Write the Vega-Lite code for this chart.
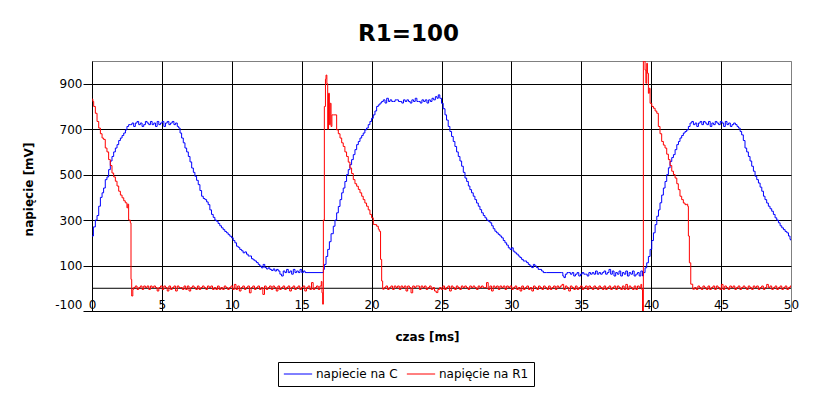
{
  "$schema": "https://vega.github.io/schema/vega-lite/v6.json",
  "width": 699,
  "height": 250,
  "autosize": {"type": "none"},
  "padding": {"left": 92, "top": 61, "right": 25, "bottom": 82},
  "background": "white",
  "config": {
    "font": "DejaVu Sans",
    "view": {"stroke": "#808080", "strokeWidth": 1}
  },
  "title": {"text": "R1=100", "font": "DejaVu Sans", "fontSize": 23, "fontWeight": "bold", "color": "black", "frame": "group", "anchor": "middle", "dx": -33, "offset": 15},
  "datasets": {
    "C": [
      {"t":0,"v":230},{"t":0.1,"v":270},{"t":0.24,"v":300},{"t":0.36,"v":320},{"t":0.48,"v":361},{"t":0.6,"v":400},{"t":0.72,"v":420},{"t":0.83,"v":441},{"t":0.95,"v":478},{"t":1.07,"v":490},{"t":1.19,"v":522},{"t":1.31,"v":560},{"t":1.43,"v":580},{"t":1.55,"v":600},{"t":1.67,"v":617},{"t":1.79,"v":632},{"t":1.91,"v":650},{"t":2.03,"v":661},{"t":2.15,"v":672},{"t":2.27,"v":683},{"t":2.39,"v":697},{"t":2.5,"v":712},{"t":2.62,"v":720},
      {"t":2.74,"v":720},{"t":2.86,"v":727},{"t":2.98,"v":712},{"t":3.1,"v":727},{"t":3.22,"v":734},{"t":3.34,"v":720},{"t":3.46,"v":727},{"t":3.58,"v":712},{"t":3.7,"v":720},{"t":3.82,"v":734},{"t":3.94,"v":727},{"t":4.06,"v":720},{"t":4.18,"v":734},{"t":4.3,"v":720},{"t":4.42,"v":727},{"t":4.54,"v":712},{"t":4.66,"v":734},{"t":4.78,"v":720},{"t":4.9,"v":727},{"t":5.02,"v":734},{"t":5.14,"v":712},{"t":5.26,"v":727},{"t":5.38,"v":734},{"t":5.5,"v":720},{"t":5.62,"v":727},{"t":5.74,"v":734},{"t":5.86,"v":720},{"t":5.98,"v":727},{"t":6.1,"v":712},
      {"t":6.2,"v":705},{"t":6.3,"v":683},{"t":6.41,"v":661},{"t":6.53,"v":640},{"t":6.65,"v":617},{"t":6.77,"v":600},{"t":6.89,"v":580},{"t":7.01,"v":556},{"t":7.13,"v":529},{"t":7.25,"v":510},{"t":7.36,"v":493},{"t":7.48,"v":475},{"t":7.6,"v":456},{"t":7.72,"v":430},{"t":7.84,"v":405},{"t":7.96,"v":395},{"t":8.08,"v":390},{"t":8.2,"v":380},{"t":8.31,"v":368},{"t":8.43,"v":345},{"t":8.55,"v":325},{"t":8.67,"v":312},{"t":8.79,"v":300},{"t":8.9,"v":295},{"t":9.02,"v":285},{"t":9.14,"v":275},{"t":9.26,"v":266},{"t":9.38,"v":258},{"t":9.5,"v":250},{"t":9.62,"v":244},{"t":9.74,"v":236},{"t":9.86,"v":229},{"t":9.98,"v":222},{"t":10.1,"v":210},{"t":10.22,"v":200},{"t":10.34,"v":185},{"t":10.46,"v":180},{"t":10.57,"v":171},{"t":10.7,"v":165},{"t":10.81,"v":156},{"t":10.93,"v":160},{"t":11.05,"v":150},{"t":11.17,"v":142},{"t":11.29,"v":142},{"t":11.41,"v":130},{"t":11.53,"v":125},{"t":11.65,"v":120},{"t":11.77,"v":113},{"t":11.89,"v":105},{"t":12.0,"v":98},{"t":12.12,"v":90},{"t":12.24,"v":105},{"t":12.36,"v":91},{"t":12.48,"v":85},{"t":12.6,"v":90},{"t":12.72,"v":83},{"t":12.84,"v":78},{"t":12.96,"v":85},{"t":13.08,"v":76},{"t":13.2,"v":83},{"t":13.32,"v":76},{"t":13.44,"v":62},{"t":13.56,"v":54},{"t":13.68,"v":76},{"t":13.8,"v":69},{"t":13.92,"v":83},{"t":14.04,"v":69},{"t":14.16,"v":76},{"t":14.28,"v":62},{"t":14.4,"v":83},{"t":14.52,"v":69},{"t":14.64,"v":76},{"t":14.76,"v":69},{"t":14.88,"v":83},{"t":15.0,"v":69},{"t":15.12,"v":76},{"t":15.24,"v":69},{"t":16.45,"v":69},
      {"t":16.55,"v":83},{"t":16.62,"v":105},{"t":16.74,"v":140},{"t":16.86,"v":171},{"t":16.98,"v":205},{"t":17.1,"v":240},{"t":17.26,"v":273},{"t":17.38,"v":300},{"t":17.5,"v":332},{"t":17.62,"v":360},{"t":17.74,"v":390},{"t":17.86,"v":420},{"t":17.97,"v":441},{"t":18.09,"v":470},{"t":18.21,"v":500},{"t":18.33,"v":522},{"t":18.45,"v":544},{"t":18.57,"v":566},{"t":18.69,"v":588},{"t":18.81,"v":610},{"t":18.93,"v":632},{"t":19.05,"v":646},{"t":19.17,"v":661},{"t":19.29,"v":672},{"t":19.4,"v":683},{"t":19.52,"v":697},{"t":19.64,"v":705},{"t":19.76,"v":720},{"t":19.88,"v":734},{"t":20.0,"v":748},{"t":20.12,"v":763},{"t":20.24,"v":780},{"t":20.36,"v":800},{"t":20.48,"v":807},{"t":20.6,"v":815},{"t":20.72,"v":822},
      {"t":20.84,"v":829},{"t":20.96,"v":815},{"t":21.08,"v":836},{"t":21.2,"v":822},{"t":21.32,"v":829},{"t":21.44,"v":822},{"t":21.56,"v":822},{"t":21.68,"v":829},{"t":21.8,"v":829},{"t":21.92,"v":822},{"t":22.04,"v":822},{"t":22.16,"v":815},{"t":22.28,"v":829},{"t":22.4,"v":822},{"t":22.52,"v":829},{"t":22.64,"v":822},{"t":22.76,"v":815},{"t":22.88,"v":829},{"t":23.0,"v":822},{"t":23.12,"v":836},{"t":23.24,"v":822},{"t":23.36,"v":822},{"t":23.48,"v":815},{"t":23.6,"v":829},{"t":23.72,"v":822},{"t":23.84,"v":829},{"t":23.96,"v":815},{"t":24.08,"v":829},{"t":24.2,"v":822},{"t":24.32,"v":836},{"t":24.44,"v":829},{"t":24.56,"v":843},{"t":24.68,"v":836},{"t":24.77,"v":851},{"t":24.88,"v":836},
      {"t":25.0,"v":814},{"t":25.12,"v":790},{"t":25.25,"v":763},{"t":25.36,"v":740},{"t":25.48,"v":712},{"t":25.6,"v":690},{"t":25.72,"v":668},{"t":25.84,"v":646},{"t":25.96,"v":624},{"t":26.08,"v":600},{"t":26.2,"v":580},{"t":26.32,"v":560},{"t":26.44,"v":537},{"t":26.56,"v":510},{"t":26.68,"v":485},{"t":26.8,"v":470},{"t":26.92,"v":450},{"t":27.03,"v":434},{"t":27.15,"v":420},{"t":27.27,"v":405},{"t":27.39,"v":390},{"t":27.51,"v":375},{"t":27.63,"v":361},{"t":27.75,"v":346},{"t":27.87,"v":332},{"t":27.99,"v":320},{"t":28.11,"v":310},{"t":28.23,"v":300},{"t":28.35,"v":295},{"t":28.47,"v":288},{"t":28.59,"v":275},{"t":28.7,"v":262},{"t":28.82,"v":251},{"t":28.94,"v":244},{"t":29.06,"v":237},{"t":29.18,"v":230},{"t":29.3,"v":222},{"t":29.42,"v":210},{"t":29.54,"v":200},{"t":29.66,"v":190},{"t":29.78,"v":178},{"t":29.9,"v":171},{"t":30.02,"v":178},{"t":30.13,"v":163},{"t":30.25,"v":156},{"t":30.37,"v":150},{"t":30.49,"v":142},{"t":30.61,"v":135},{"t":30.73,"v":127},{"t":30.85,"v":120},{"t":30.97,"v":120},{"t":31.09,"v":113},{"t":31.21,"v":105},{"t":31.33,"v":98},{"t":31.45,"v":91},{"t":31.57,"v":105},{"t":31.68,"v":98},{"t":31.8,"v":91},{"t":31.92,"v":83},{"t":32.04,"v":83},{"t":32.16,"v":76},{"t":32.28,"v":69},{"t":32.52,"v":69},{"t":33.6,"v":69},{"t":33.68,"v":54},{"t":33.76,"v":47},{"t":33.86,"v":62},{"t":33.98,"v":69},
      {"t":34.1,"v":69},{"t":34.22,"v":62},{"t":34.34,"v":69},{"t":34.46,"v":54},{"t":34.58,"v":62},{"t":34.7,"v":69},{"t":34.82,"v":54},{"t":34.94,"v":62},{"t":35.06,"v":69},{"t":35.18,"v":62},{"t":35.3,"v":62},{"t":35.42,"v":54},{"t":35.54,"v":69},{"t":35.66,"v":62},{"t":35.78,"v":69},{"t":35.9,"v":62},{"t":36.02,"v":76},{"t":36.14,"v":62},{"t":36.26,"v":69},{"t":36.38,"v":62},{"t":36.5,"v":69},{"t":36.62,"v":76},{"t":36.74,"v":62},{"t":36.86,"v":69},{"t":36.98,"v":83},{"t":37.1,"v":62},{"t":37.22,"v":76},{"t":37.34,"v":54},{"t":37.46,"v":69},{"t":37.58,"v":62},{"t":37.7,"v":76},{"t":37.82,"v":54},{"t":37.94,"v":69},{"t":38.06,"v":62},{"t":38.18,"v":76},{"t":38.3,"v":54},{"t":38.42,"v":69},{"t":38.54,"v":62},{"t":38.66,"v":76},{"t":38.78,"v":54},{"t":38.9,"v":62},{"t":39.02,"v":69},{"t":39.14,"v":54},{"t":39.26,"v":76},{"t":39.38,"v":54},
      {"t":39.44,"v":69},{"t":39.56,"v":90},{"t":39.68,"v":112},{"t":39.8,"v":140},{"t":39.92,"v":171},{"t":40.04,"v":210},{"t":40.16,"v":244},{"t":40.28,"v":280},{"t":40.4,"v":317},{"t":40.52,"v":345},{"t":40.63,"v":376},{"t":40.75,"v":410},{"t":40.87,"v":441},{"t":40.99,"v":470},{"t":41.11,"v":500},{"t":41.23,"v":530},{"t":41.35,"v":558},{"t":41.47,"v":575},{"t":41.59,"v":588},{"t":41.71,"v":610},{"t":41.83,"v":632},{"t":41.95,"v":646},{"t":42.06,"v":661},{"t":42.18,"v":672},{"t":42.3,"v":683},{"t":42.42,"v":690},{"t":42.54,"v":697},{"t":42.66,"v":712},{"t":42.78,"v":727},
      {"t":42.9,"v":734},{"t":43.02,"v":720},{"t":43.14,"v":727},{"t":43.26,"v":712},{"t":43.38,"v":727},{"t":43.5,"v":734},{"t":43.62,"v":720},{"t":43.74,"v":734},{"t":43.86,"v":727},{"t":43.98,"v":720},{"t":44.1,"v":734},{"t":44.22,"v":712},{"t":44.34,"v":727},{"t":44.46,"v":720},{"t":44.58,"v":734},{"t":44.7,"v":727},{"t":44.82,"v":720},{"t":44.94,"v":734},{"t":45.06,"v":727},{"t":45.18,"v":712},{"t":45.3,"v":734},{"t":45.42,"v":720},{"t":45.54,"v":727},{"t":45.66,"v":712},{"t":45.78,"v":720},{"t":45.9,"v":727},{"t":46.02,"v":720},{"t":46.14,"v":712},
      {"t":46.24,"v":705},{"t":46.36,"v":690},{"t":46.47,"v":675},{"t":46.59,"v":650},{"t":46.71,"v":617},{"t":46.83,"v":600},{"t":46.95,"v":580},{"t":47.07,"v":560},{"t":47.19,"v":537},{"t":47.31,"v":515},{"t":47.43,"v":493},{"t":47.55,"v":478},{"t":47.67,"v":463},{"t":47.79,"v":445},{"t":47.91,"v":427},{"t":48.03,"v":405},{"t":48.14,"v":390},{"t":48.26,"v":375},{"t":48.38,"v":361},{"t":48.5,"v":350},{"t":48.62,"v":339},{"t":48.74,"v":325},{"t":48.86,"v":310},{"t":48.98,"v":300},{"t":49.1,"v":288},{"t":49.22,"v":275},{"t":49.34,"v":266},{"t":49.46,"v":258},{"t":49.58,"v":250},{"t":49.7,"v":244},{"t":49.82,"v":230},{"t":49.93,"v":215},{"t":50.0,"v":210}
    ],
    "R": [
      {"t":0,"v":832},{"t":0.06,"v":822},{"t":0.12,"v":800},{"t":0.24,"v":770},{"t":0.36,"v":734},{"t":0.48,"v":705},{"t":0.6,"v":680},{"t":0.72,"v":661},{"t":0.83,"v":655},{"t":0.95,"v":617},{"t":1.07,"v":600},{"t":1.19,"v":566},{"t":1.31,"v":540},{"t":1.43,"v":507},{"t":1.55,"v":490},{"t":1.67,"v":471},{"t":1.79,"v":450},{"t":1.91,"v":427},{"t":2.03,"v":410},{"t":2.15,"v":398},{"t":2.27,"v":385},{"t":2.38,"v":376},{"t":2.5,"v":354},{"t":2.56,"v":370},{"t":2.62,"v":300},{"t":2.74,"v":288},{"t":2.79,"v":39},{"t":2.84,"v":-34},{"t":2.92,"v":-5},{"t":2.98,"v":3},
      {"t":3.1,"v":10},{"t":3.22,"v":-5},{"t":3.34,"v":3},{"t":3.46,"v":10},{"t":3.58,"v":-5},{"t":3.7,"v":10},{"t":3.82,"v":3},{"t":3.94,"v":10},{"t":4.06,"v":-5},{"t":4.18,"v":10},{"t":4.3,"v":3},{"t":4.42,"v":10},{"t":4.54,"v":3},{"t":4.66,"v":-12},{"t":4.78,"v":3},{"t":4.9,"v":10},{"t":5.02,"v":-5},{"t":5.14,"v":10},{"t":5.26,"v":3},{"t":5.38,"v":-12},{"t":5.5,"v":10},{"t":5.62,"v":-5},{"t":5.74,"v":3},{"t":5.86,"v":10},{"t":5.98,"v":-12},{"t":6.1,"v":10},{"t":6.22,"v":3},{"t":6.34,"v":3},{"t":6.46,"v":-5},{"t":6.58,"v":10},{"t":6.7,"v":-5},{"t":6.82,"v":10},{"t":6.94,"v":-12},{"t":7.06,"v":3},{"t":7.18,"v":10},{"t":7.3,"v":3},{"t":7.42,"v":-5},{"t":7.54,"v":10},{"t":7.66,"v":-5},{"t":7.78,"v":3},{"t":7.9,"v":10},{"t":8.02,"v":3},{"t":8.14,"v":-5},{"t":8.26,"v":10},{"t":8.38,"v":3},{"t":8.5,"v":10},{"t":8.62,"v":-5},{"t":8.74,"v":3},{"t":8.86,"v":-5},{"t":8.98,"v":10},{"t":9.1,"v":-5},{"t":9.22,"v":3},{"t":9.34,"v":-5},{"t":9.46,"v":10},{"t":9.58,"v":3},{"t":9.7,"v":-5},{"t":9.82,"v":3},{"t":9.94,"v":10},{"t":10.06,"v":-5},{"t":10.18,"v":17},{"t":10.3,"v":-5},{"t":10.42,"v":10},{"t":10.54,"v":-12},{"t":10.66,"v":3},{"t":10.78,"v":10},{"t":10.9,"v":-5},{"t":11.02,"v":3},{"t":11.14,"v":10},{"t":11.26,"v":-20},{"t":11.38,"v":3},{"t":11.5,"v":10},{"t":11.62,"v":-5},{"t":11.74,"v":3},{"t":11.86,"v":10},{"t":11.98,"v":-5},{"t":12.1,"v":3},{"t":12.22,"v":-27},{"t":12.34,"v":10},{"t":12.46,"v":-5},{"t":12.58,"v":3},{"t":12.7,"v":10},{"t":12.82,"v":-5},{"t":12.94,"v":10},{"t":13.06,"v":3},{"t":13.18,"v":-12},{"t":13.3,"v":10},{"t":13.42,"v":-5},{"t":13.54,"v":3},{"t":13.66,"v":10},{"t":13.78,"v":-5},{"t":13.9,"v":3},{"t":14.02,"v":10},{"t":14.14,"v":-12},{"t":14.26,"v":3},{"t":14.38,"v":10},{"t":14.5,"v":-5},{"t":14.62,"v":3},{"t":14.74,"v":10},{"t":14.86,"v":-5},{"t":14.98,"v":3},{"t":15.1,"v":10},{"t":15.22,"v":-12},{"t":15.34,"v":3},{"t":15.46,"v":10},{"t":15.58,"v":-5},{"t":15.7,"v":25},{"t":15.82,"v":-5},{"t":15.94,"v":3},{"t":16.06,"v":10},{"t":16.18,"v":-5},{"t":16.3,"v":10},{"t":16.4,"v":30},{"t":16.45,"v":-20},{"t":16.5,"v":-70},
      {"t":16.55,"v":300},{"t":16.62,"v":800},{"t":16.7,"v":920},{"t":16.74,"v":938},{"t":16.8,"v":900},{"t":16.86,"v":700},{"t":16.92,"v":858},{"t":16.98,"v":720},{"t":17.04,"v":814},{"t":17.1,"v":712},{"t":17.16,"v":763},{"t":17.26,"v":763},{"t":17.38,"v":763},{"t":17.5,"v":697},{"t":17.62,"v":680},{"t":17.74,"v":661},{"t":17.86,"v":640},{"t":17.97,"v":624},{"t":18.09,"v":600},{"t":18.21,"v":580},{"t":18.33,"v":555},{"t":18.45,"v":529},{"t":18.57,"v":505},{"t":18.69,"v":478},{"t":18.81,"v":460},{"t":18.93,"v":449},{"t":19.05,"v":435},{"t":19.17,"v":420},{"t":19.29,"v":405},{"t":19.4,"v":390},{"t":19.52,"v":375},{"t":19.64,"v":361},{"t":19.76,"v":345},{"t":19.88,"v":325},{"t":20.0,"v":310},{"t":20.12,"v":281},{"t":20.24,"v":280},{"t":20.36,"v":273},{"t":20.48,"v":260},{"t":20.55,"v":251},{"t":20.64,"v":127},{"t":20.72,"v":32},{"t":20.79,"v":-4},
      {"t":20.9,"v":3},{"t":21.02,"v":10},{"t":21.14,"v":-5},{"t":21.26,"v":3},{"t":21.38,"v":10},{"t":21.5,"v":-5},{"t":21.62,"v":10},{"t":21.74,"v":3},{"t":21.86,"v":10},{"t":21.98,"v":-5},{"t":22.1,"v":10},{"t":22.22,"v":3},{"t":22.34,"v":10},{"t":22.46,"v":-12},{"t":22.58,"v":10},{"t":22.7,"v":3},{"t":22.82,"v":-20},{"t":22.94,"v":10},{"t":23.06,"v":3},{"t":23.18,"v":10},{"t":23.3,"v":10},{"t":23.42,"v":-5},{"t":23.54,"v":10},{"t":23.66,"v":3},{"t":23.78,"v":10},{"t":23.9,"v":-5},{"t":24.02,"v":3},{"t":24.14,"v":10},{"t":24.26,"v":-5},{"t":24.38,"v":3},{"t":24.5,"v":-12},{"t":24.62,"v":-19},{"t":24.74,"v":-5},{"t":24.86,"v":3},{"t":24.98,"v":-5},{"t":25.1,"v":10},{"t":25.22,"v":-5},{"t":25.34,"v":3},{"t":25.46,"v":10},{"t":25.58,"v":-12},{"t":25.7,"v":10},{"t":25.82,"v":3},{"t":25.94,"v":-5},{"t":26.06,"v":10},{"t":26.18,"v":3},{"t":26.3,"v":-5},{"t":26.42,"v":10},{"t":26.54,"v":3},{"t":26.66,"v":10},{"t":26.78,"v":3},{"t":26.9,"v":-5},{"t":27.02,"v":10},{"t":27.14,"v":3},{"t":27.26,"v":10},{"t":27.38,"v":3},{"t":27.5,"v":-5},{"t":27.62,"v":10},{"t":27.74,"v":3},{"t":27.86,"v":10},{"t":27.98,"v":3},{"t":28.1,"v":3},{"t":28.22,"v":25},{"t":28.34,"v":-5},{"t":28.46,"v":10},{"t":28.58,"v":-12},{"t":28.7,"v":10},{"t":28.82,"v":3},{"t":28.94,"v":10},{"t":29.06,"v":-5},{"t":29.18,"v":10},{"t":29.3,"v":3},{"t":29.42,"v":10},{"t":29.54,"v":-5},{"t":29.66,"v":10},{"t":29.78,"v":3},{"t":29.9,"v":10},{"t":30.02,"v":-5},{"t":30.14,"v":3},{"t":30.26,"v":10},{"t":30.38,"v":-5},{"t":30.5,"v":3},{"t":30.62,"v":-12},{"t":30.74,"v":10},{"t":30.86,"v":-5},{"t":30.98,"v":3},{"t":31.1,"v":10},{"t":31.22,"v":-5},{"t":31.34,"v":3},{"t":31.46,"v":-12},{"t":31.58,"v":10},{"t":31.7,"v":3},{"t":31.82,"v":-5},{"t":31.94,"v":10},{"t":32.06,"v":3},{"t":32.18,"v":-5},{"t":32.3,"v":10},{"t":32.42,"v":3},{"t":32.54,"v":-5},{"t":32.66,"v":10},{"t":32.78,"v":-5},{"t":32.9,"v":3},{"t":33.02,"v":10},{"t":33.14,"v":-5},{"t":33.26,"v":10},{"t":33.38,"v":3},{"t":33.5,"v":10},{"t":33.62,"v":17},{"t":33.74,"v":-5},{"t":33.86,"v":10},{"t":33.98,"v":3},{"t":34.1,"v":-12},{"t":34.22,"v":10},{"t":34.34,"v":3},{"t":34.46,"v":-5},{"t":34.58,"v":10},{"t":34.7,"v":-5},{"t":34.82,"v":3},{"t":34.94,"v":10},{"t":35.06,"v":-5},{"t":35.18,"v":3},{"t":35.3,"v":10},{"t":35.42,"v":-5},{"t":35.54,"v":10},{"t":35.66,"v":3},{"t":35.78,"v":-5},{"t":35.9,"v":10},{"t":36.02,"v":3},{"t":36.14,"v":-5},{"t":36.26,"v":10},{"t":36.38,"v":3},{"t":36.5,"v":-5},{"t":36.62,"v":10},{"t":36.74,"v":-5},{"t":36.86,"v":3},{"t":36.98,"v":10},{"t":37.1,"v":-5},{"t":37.22,"v":3},{"t":37.34,"v":10},{"t":37.46,"v":-5},{"t":37.58,"v":10},{"t":37.7,"v":3},{"t":37.82,"v":-5},{"t":37.94,"v":10},{"t":38.06,"v":-5},{"t":38.18,"v":17},{"t":38.3,"v":-5},{"t":38.42,"v":10},{"t":38.54,"v":3},{"t":38.66,"v":-5},{"t":38.78,"v":10},{"t":38.9,"v":-5},{"t":39.02,"v":10},{"t":39.14,"v":3},{"t":39.26,"v":17},{"t":39.32,"v":-5},
      {"t":39.38,"v":-110},{"t":39.44,"v":1050},{"t":39.5,"v":1000},{"t":39.56,"v":960},{"t":39.62,"v":902},{"t":39.68,"v":990},{"t":39.73,"v":946},{"t":39.8,"v":858},{"t":39.86,"v":880},{"t":39.92,"v":814},{"t":40.04,"v":800},{"t":40.16,"v":792},{"t":40.28,"v":780},{"t":40.4,"v":770},{"t":40.51,"v":712},{"t":40.63,"v":680},{"t":40.75,"v":646},{"t":40.87,"v":630},{"t":40.99,"v":617},{"t":41.11,"v":590},{"t":41.23,"v":566},{"t":41.35,"v":540},{"t":41.47,"v":515},{"t":41.59,"v":500},{"t":41.71,"v":485},{"t":41.83,"v":460},{"t":41.94,"v":434},{"t":42.06,"v":405},{"t":42.18,"v":390},{"t":42.3,"v":375},{"t":42.42,"v":368},{"t":42.54,"v":370},{"t":42.61,"v":361},{"t":42.66,"v":230},{"t":42.73,"v":112},{"t":42.83,"v":18},{"t":42.97,"v":-4},
      {"t":43.1,"v":3},{"t":43.22,"v":-5},{"t":43.34,"v":10},{"t":43.46,"v":3},{"t":43.58,"v":-5},{"t":43.7,"v":10},{"t":43.82,"v":3},{"t":43.94,"v":-5},{"t":44.06,"v":10},{"t":44.18,"v":-5},{"t":44.3,"v":3},{"t":44.42,"v":10},{"t":44.54,"v":-5},{"t":44.66,"v":10},{"t":44.78,"v":3},{"t":44.9,"v":-5},{"t":45.02,"v":17},{"t":45.14,"v":-5},{"t":45.26,"v":10},{"t":45.38,"v":3},{"t":45.5,"v":-5},{"t":45.62,"v":10},{"t":45.74,"v":3},{"t":45.86,"v":10},{"t":45.98,"v":-5},{"t":46.1,"v":3},{"t":46.22,"v":10},{"t":46.34,"v":-5},{"t":46.46,"v":3},{"t":46.58,"v":10},{"t":46.7,"v":3},{"t":46.82,"v":-5},{"t":46.94,"v":10},{"t":47.06,"v":3},{"t":47.18,"v":-5},{"t":47.3,"v":10},{"t":47.42,"v":3},{"t":47.54,"v":10},{"t":47.66,"v":-5},{"t":47.78,"v":3},{"t":47.9,"v":10},{"t":48.02,"v":-5},{"t":48.14,"v":3},{"t":48.26,"v":17},{"t":48.38,"v":3},{"t":48.5,"v":10},{"t":48.62,"v":-5},{"t":48.74,"v":3},{"t":48.86,"v":10},{"t":48.98,"v":-5},{"t":49.1,"v":3},{"t":49.22,"v":10},{"t":49.34,"v":-5},{"t":49.46,"v":3},{"t":49.58,"v":10},{"t":49.7,"v":-5},{"t":49.82,"v":3},{"t":49.94,"v":10},{"t":50.0,"v":3}
    ]
  },
  "layer": [
    {
      "data": {"values": [{"z": 0}]},
      "mark": {"type": "rule", "color": "black", "strokeWidth": 1},
      "encoding": {
        "y": {
          "datum": 0, "type": "quantitative",
          "scale": {"domain": [-100, 1000], "nice": false, "zero": false},
          "axis": {
            "title": "napięcie [mV]", "values": [-100,100,300,500,700,900],
            "labelExpr": "'' + datum.value",
            "grid": true, "gridColor": "black", "gridWidth": 1, "gridOpacity": 1,
            "domainColor": "black", "domainWidth": 1,
            "ticks": true, "tickColor": "black", "tickSize": 9, "tickWidth": 1,
            "labelFont": "DejaVu Sans", "labelFontSize": 12, "labelColor": "black", "labelPadding": 1, "labelFlush": true, "labelOverlap": false, "labelBound": false,
            "titleFont": "DejaVu Sans", "titleFontSize": 12, "titleFontWeight": "bold", "titleColor": "black",
            "titleX": -64, "titleY": 128, "titleBaseline": "middle", "titleAlign": "center", "titleAngle": -90
          }
        }
      }
    },
    {
      "data": {"name": "C"},
      "mark": {"type": "line", "interpolate": "step-after", "strokeWidth": 1, "clip": true},
      "encoding": {
        "x": {
          "field": "t", "type": "quantitative",
          "scale": {"domain": [0, 50], "nice": false, "zero": false},
          "axis": {
            "title": "czas [ms]", "values": [0,5,10,15,20,25,30,35,40,45,50],
            "grid": true, "gridColor": {"condition": {"test": "datum.value == 50 || datum.value == 0", "value": "#808080"}, "value": "black"}, "gridWidth": 1, "gridOpacity": 1,
            "domainColor": "black", "domainWidth": 1,
            "ticks": false, "tickSize": 0,
            "labelFont": "DejaVu Sans", "labelFontSize": 12, "labelColor": "black",
            "labelBaseline": "alphabetic", "labelPadding": -3, "labelFlush": false, "labelOverlap": false, "labelBound": false,
            "titleFont": "DejaVu Sans", "titleFontSize": 12, "titleFontWeight": "bold", "titleColor": "black",
            "titleX": 335, "titleY": 29, "titleBaseline": "alphabetic", "titleAnchor": "middle", "titleAlign": "center"
          }
        },
        "y": {"field": "v", "type": "quantitative"},
        "color": {
          "datum": "napiecie na C", "type": "nominal",
          "scale": {"domain": ["napiecie na C", "napięcie na R1"], "range": ["#0000ff", "#ff0000"]},
          "legend": {
            "title": null, "orient": "none", "direction": "horizontal", "legendX": 186, "legendY": 301,
            "strokeColor": "black", "fillColor": "white", "padding": 5,
            "symbolType": "stroke", "symbolSize": 800, "symbolStrokeWidth": 1, "clipHeight": 14,
            "labelFont": "DejaVu Sans", "labelFontSize": 12, "labelColor": "black", "labelOffset": 3,
            "columnPadding": 8, "labelLimit": 300
          }
        }
      }
    },
    {
      "data": {"name": "R"},
      "mark": {"type": "line", "interpolate": "step-after", "strokeWidth": 1, "clip": true},
      "encoding": {
        "x": {"field": "t", "type": "quantitative"},
        "y": {"field": "v", "type": "quantitative"},
        "color": {"datum": "napięcie na R1", "type": "nominal"}
      }
    }
  ]
}
